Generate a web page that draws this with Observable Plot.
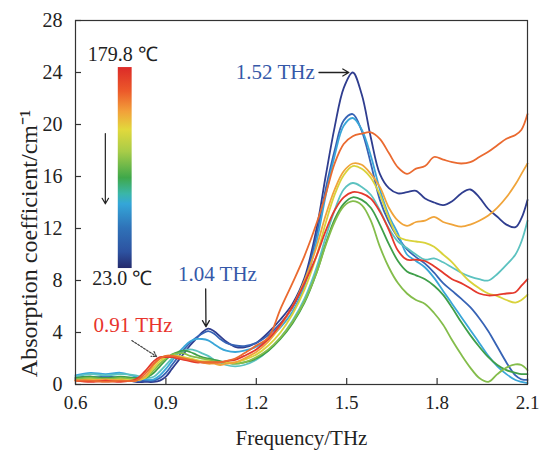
<!DOCTYPE html>
<html><head><meta charset="utf-8">
<script src="https://cdn.jsdelivr.net/npm/d3@7"></script>
<script src="https://cdn.jsdelivr.net/npm/@observablehq/plot@0.6"></script>
<style>body{margin:0;background:#fff}</style>
</head><body><div id="chart"></div>
<script>
// Frequency grid (THz)
const freq = [0.6,0.65,0.7,0.75,0.8,0.83,0.86,0.88,0.9,0.92,0.94,0.96,0.98,1.0,1.02,1.04,1.06,1.08,1.1,1.13,1.16,1.2,1.24,1.28,1.32,1.36,1.4,1.43,1.46,1.49,1.52,1.55,1.58,1.61,1.64,1.67,1.7,1.73,1.76,1.79,1.82,1.85,1.88,1.91,1.94,1.97,2.0,2.03,2.06,2.08,2.1];

// Absorption coefficient series (cm^-1), lowest to highest temperature
const sDarkBlue = [0.5,0.6,0.4,0.5,0.2,0.2,0.2,0.3,0.6,1.2,1.8,2.4,3.0,3.5,4.0,4.3,4.1,3.7,3.3,2.9,2.85,3.2,4.0,5.0,6.2,8.2,12.0,16.0,19.8,22.8,24.0,22.3,19.0,16.2,15.1,14.7,14.8,14.9,14.3,14.0,13.8,14.1,14.7,15.0,14.4,13.5,12.9,12.3,12.1,12.8,14.2];
const sBlue = [0.4,0.5,0.6,0.5,0.3,0.3,0.3,0.5,0.9,1.5,2.1,2.7,3.2,3.6,3.9,4.1,3.9,3.5,3.2,3.0,2.95,3.2,3.8,4.7,5.9,7.9,11.5,15.0,18.0,20.3,20.8,19.5,17.0,14.2,12.5,11.3,10.4,9.8,9.3,8.6,7.8,7.2,6.6,5.95,5.1,4.1,2.9,1.7,0.7,0.4,0.35];
const sCyan = [0.7,0.9,0.8,0.9,0.6,0.4,0.4,0.7,1.2,1.8,2.4,2.9,3.3,3.5,3.5,3.4,3.1,2.8,2.6,2.5,2.6,2.9,3.5,4.4,5.6,7.6,11.0,14.5,17.6,19.9,20.5,19.6,17.6,15.0,13.0,11.6,10.0,9.5,9.0,8.2,7.2,6.2,5.2,4.2,3.2,2.2,1.4,0.8,0.35,0.2,0.1];
const sTeal = [0.6,0.8,0.7,0.8,0.7,0.5,0.6,1.0,1.5,2.0,2.4,2.6,2.7,2.6,2.4,2.2,1.9,1.7,1.5,1.4,1.5,1.9,2.6,3.6,4.9,6.6,9.0,11.3,13.4,15.0,15.5,15.2,14.6,13.4,12.0,11.0,10.5,10.0,9.6,9.7,9.4,9.0,8.6,8.3,8.1,8.0,8.5,9.2,10.0,11.0,12.6];
const sGreen = [0.5,0.6,0.5,0.6,0.5,0.5,0.9,1.4,1.9,2.3,2.5,2.6,2.5,2.3,2.1,2.0,1.9,1.8,1.7,1.6,1.7,2.0,2.6,3.5,4.7,6.3,8.6,10.8,12.7,13.9,14.4,14.2,13.6,12.3,10.8,9.5,8.7,8.4,8.1,7.6,6.9,5.9,4.8,3.8,2.9,2.1,1.5,1.1,0.9,0.8,0.8];
const sLime = [0.4,0.5,0.4,0.5,0.4,0.5,1.1,1.6,2.0,2.3,2.4,2.4,2.2,2.1,2.0,1.9,1.8,1.7,1.7,1.6,1.7,2.1,2.7,3.6,4.8,6.4,8.6,10.7,12.5,13.7,14.1,13.8,12.6,10.6,9.0,7.8,7.0,6.5,6.2,5.5,4.6,3.4,2.3,1.3,0.5,0.2,0.8,1.3,1.55,1.5,1.1];
const sYellow = [0.3,0.4,0.3,0.4,0.3,0.5,1.3,1.8,2.1,2.2,2.2,2.1,2.0,1.9,1.8,1.8,1.7,1.7,1.7,1.7,1.9,2.3,3.0,4.0,5.4,7.3,9.9,12.4,14.6,16.1,16.8,16.6,15.9,14.6,12.8,11.4,11.1,11.0,10.9,10.6,10.0,9.4,8.6,7.9,7.4,7.0,6.8,6.5,6.3,6.5,6.9];
const sOrange = [0.3,0.3,0.4,0.3,0.3,0.6,1.5,2.0,2.2,2.2,2.1,2.0,1.9,1.8,1.7,1.6,1.6,1.5,1.6,1.7,2.0,2.5,3.3,4.5,6.0,8.0,10.6,13.0,15.0,16.4,17.0,16.9,16.2,15.2,13.6,12.6,12.2,12.5,12.6,12.9,12.5,12.3,12.15,12.3,12.6,13.0,13.6,14.4,15.4,16.2,17.0];
const sRed = [0.3,0.2,0.3,0.2,0.4,1.0,1.8,2.1,2.1,2.1,2.0,1.9,1.8,1.7,1.7,1.7,1.7,1.7,1.8,1.9,2.2,2.7,3.5,4.6,6.0,7.8,9.9,11.8,13.4,14.4,14.8,14.7,14.3,13.3,11.9,10.3,9.6,9.6,9.5,9.1,8.6,8.1,7.8,7.4,7.0,6.85,6.9,7.0,7.1,7.6,8.1];
const sRedOrange = [0.3,0.3,0.2,0.3,0.3,0.8,1.6,2.0,2.2,2.2,2.1,2.0,1.9,1.8,1.7,1.7,1.7,1.7,1.8,2.0,2.4,3.0,3.6,5.8,7.8,9.9,12.4,14.6,17.0,18.5,19.1,19.3,19.4,18.9,17.8,16.7,16.2,16.6,16.8,17.5,17.3,17.1,17.0,17.1,17.5,17.9,18.4,18.9,19.2,19.6,20.8];

const seriesNames = ["dark blue","blue","cyan","teal","green","lime","yellow","orange","red","red-orange"];
const seriesValues = [sDarkBlue,sBlue,sCyan,sTeal,sGreen,sLime,sYellow,sOrange,sRed,sRedOrange];
const seriesColors = ["#2f3d8f","#3763b5","#3aa6d8","#5cc2c0","#3f9f4a","#84bd4b","#d9d23b","#f0a43a","#e4392c","#ea6a30"];

const xTicks = [0.6,0.9,1.2,1.5,1.8,2.1];
const yTicks = [0,4,8,12,16,20,24,28];

// colour bar
const cbOffsets = [0,0.12,0.22,0.31,0.42,0.55,0.63,0.68,0.8,0.92,1];
const cbColors = ["#dc2a28","#ec5a2a","#f2a03a","#e2d83c","#a8cc48","#3fa84a","#3ab6a8","#34a6d8","#2f72b8","#2d52a0","#242a6c"];
const cbTop = "179.8 ℃", cbBottom = "23.0 ℃";

// annotations
const peakLabels = [
  {t:"1.52 THz", f:1.263, a:24.0, c:"#3558a8"},
  {t:"1.04 THz", f:1.071, a:8.5, c:"#3558a8"},
  {t:"0.91 THz", f:0.791, a:4.55, c:"#e8342c"}
];
const arrows = [
  {x1:1.408, y1:24.0, x2:1.507, y2:24.0, dash:null},
  {x1:1.032, y1:7.35, x2:1.033, y2:4.45, dash:null},
  {x1:0.787, y1:3.38, x2:0.869, y2:2.15, dash:"2,1.5"}
];

const rows = seriesValues.flatMap((vals,i)=>vals.map((v,j)=>({f:freq[j], a:v, s:seriesNames[i]})));

const plot = Plot.plot({
  width:540, height:450,
  marginLeft:75, marginRight:13, marginTop:20, marginBottom:66,
  style:{fontFamily:"'Liberation Serif','Times New Roman',serif", fontSize:"19px", color:"#222", background:"#fff"},
  x:{domain:[0.6,2.1]},
  y:{domain:[0,28]},
  color:{domain:seriesNames, range:seriesColors},
  marks:[
    Plot.axisX({ticks:xTicks, tickSize:0, tickPadding:11, tickFormat:d3.format(".1f"), label:null, fontSize:19}),
    Plot.axisY({ticks:yTicks, tickSize:0, tickPadding:13, label:null, fontSize:20}),
    Plot.ruleX(xTicks, {x:d=>d, insetTop:358, stroke:"#333", strokeWidth:1.2}),
    Plot.ruleY(yTicks, {y:d=>d, insetRight:446, stroke:"#333", strokeWidth:1.2}),
    Plot.text(["Frequency/THz"], {frameAnchor:"bottom", dy:54, textAnchor:"middle", lineAnchor:"middle", fontSize:21, fill:"#222"}),
    Plot.text(["Absorption coefficient/cm⁻¹"], {frameAnchor:"left", dx:-46, dy:41, rotate:-90, textAnchor:"middle", lineAnchor:"middle", fontSize:24, fill:"#222"}),
    Plot.line(rows, {x:"f", y:"a", z:"s", stroke:"s", strokeWidth:1.8, curve:"catmull-rom"}),
    Plot.rect([{x1:0.742,x2:0.788,y1:8.92,y2:24.38}], {x1:"x1",x2:"x2",y1:"y1",y2:"y2", fill:"url(#cbgrad)"}),
    Plot.text([cbTop], {x:0.757, y:25.4, fontSize:20, fill:"#222"}),
    Plot.text([cbBottom], {x:0.755, y:8.15, fontSize:20, fill:"#222"}),
    Plot.arrow([{x1:0.699,y1:19.3,x2:0.699,y2:13.9}], {x1:"x1",y1:"y1",x2:"x2",y2:"y2", stroke:"#222", strokeWidth:1.2, headLength:8}),
    Plot.text(peakLabels, {x:"f", y:"a", text:"t", fill:"c", fontSize:21}),
    Plot.arrow(arrows.filter(d=>!d.dash), {x1:"x1",y1:"y1",x2:"x2",y2:"y2", stroke:"#222", strokeWidth:1.3, headLength:8}),
    Plot.arrow(arrows.filter(d=>d.dash), {x1:"x1",y1:"y1",x2:"x2",y2:"y2", stroke:"#444", strokeWidth:1.2, strokeDasharray:"2,1.5", headLength:7}),
    Plot.frame({stroke:"#333", strokeWidth:1.2})
  ]
});

const svg = d3.select(plot);
const defs = svg.insert("defs", ":first-child");
const grad = defs.append("linearGradient").attr("id","cbgrad").attr("x1","0").attr("y1","0").attr("x2","0").attr("y2","1");
cbOffsets.forEach((o,i)=>grad.append("stop").attr("offset",o).attr("stop-color",cbColors[i]));
document.getElementById("chart").appendChild(plot);
</script>
</body></html>
